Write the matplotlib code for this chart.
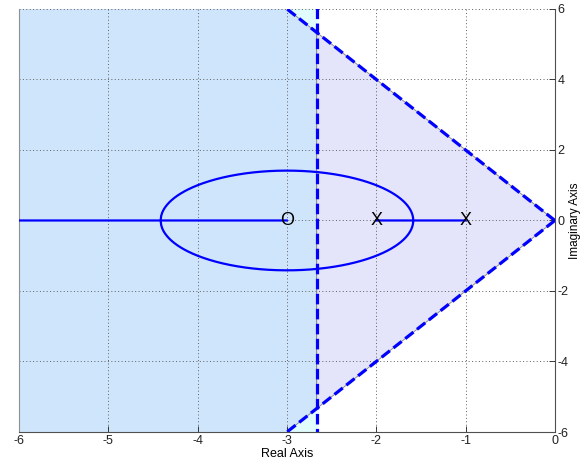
import numpy as np
import matplotlib.pyplot as plt

plt.rcParams['font.family'] = ['Liberation Sans', 'DejaVu Sans']
plt.rcParams['axes.unicode_minus'] = False

# open-loop system G(s) = K (s+3) / ((s+1)(s+2))
poles = [-1.0, -2.0]
zeros = [-3.0]

# design limits
sigma_min = 8.0 / 3.0          # real-part bound (settling time)
zeta = 1.0 / np.sqrt(5.0)      # damping ratio bound

xlim = (-6, 0)
ylim = (-6, 6)
xticks = [-6, -5, -4, -3, -2, -1, 0]
yticks = [-6, -4, -2, 0, 2, 4, 6]


def locus(poles, zeros, gains):
	den = np.poly(poles)
	num = np.poly(zeros)
	num = np.concatenate([np.zeros(len(den) - len(num)), num])
	b1, b2 = [], []
	for k in gains:
		r = np.roots(den + k * num)
		if abs(r[0].imag) > 1e-9:
			r = sorted(r, key=lambda z: -z.imag)
		else:
			r = sorted(r.real, reverse=True)
		b1.append(r[0])
		b2.append(r[1])
	return np.array(b1, dtype=complex), np.array(b2, dtype=complex)


# breakaway gains so the cusps land exactly
s_b = np.array([zeros[0] + np.sqrt(2), zeros[0] - np.sqrt(2)])
k_b = -(s_b - poles[0]) * (s_b - poles[1]) / (s_b - zeros[0])
gains = np.unique(np.concatenate([[0.0], np.geomspace(1e-4, 1e3, 4000), k_b]))
br1, br2 = locus(poles, zeros, gains)

fig = plt.figure(figsize=(5.85, 4.68), dpi=100)
ax = fig.add_axes([0.0325, 0.0769, 0.916, 0.904])

# shaded regions
wn = np.tan(np.arccos(zeta))   # slope of damping line
ax.fill([-20, -sigma_min, -sigma_min, -20], [-20, -20, 20, 20], color='#e0fcfc', zorder=0)
ax.fill([-sigma_min, -20, -20, -sigma_min], [sigma_min * wn, 20 * wn, -20 * wn, -sigma_min * wn],
	facecolor='#cfe5fc', edgecolor='#808080', linewidth=0.6, zorder=0.5)
ax.fill([-sigma_min, 0, -sigma_min], [sigma_min * wn, 0, -sigma_min * wn],
	facecolor='#e4e4fa', edgecolor='#808080', linewidth=0.6, zorder=0.5)

# design boundary lines
ax.plot([-sigma_min, -sigma_min], [-20, 20], color='#0000ff', lw=2.3, dashes=(3.3, 1.4), zorder=3)
ax.plot([0, -20], [0, 20 * wn], color='#0000ff', lw=2.3, dashes=(3.3, 1.4), zorder=3)
ax.plot([0, -20], [0, -20 * wn], color='#0000ff', lw=2.3, dashes=(3.3, 1.4), zorder=3)

# root locus branches
for br in (br1, br2):
	ax.plot(br.real, br.imag, color='#0000ff', lw=1.6, zorder=4)

for p in poles:
	ax.text(p, 0, 'X', ha='center', va='center', fontsize=13, color='black', zorder=5)
for z in zeros:
	ax.text(z, 0, 'O', ha='center', va='center', fontsize=13, color='black', zorder=5)

ax.set_xlim(*xlim)
ax.set_ylim(*ylim)
ax.set_xticks(xticks)
ax.set_yticks(yticks)
ax.yaxis.tick_right()
ax.yaxis.set_label_position('right')
ax.tick_params(direction='in', length=4, width=0.6, labelsize=9, colors='#202020', pad=2)
ax.grid(True, linestyle=(0, (1, 2.5)), color='#606060', linewidth=0.7)
for side in ['left', 'bottom', 'right']:
	ax.spines[side].set_color('#505050')
	ax.spines[side].set_linewidth(0.8)
ax.spines['left'].set_color('#909090')
ax.spines['top'].set_visible(False)
ax.set_xlabel('Real Axis', fontsize=9, labelpad=1)
ax.set_ylabel('Imaginary Axis', fontsize=8.5, labelpad=0)

fig.savefig('out.png', dpi=100)
